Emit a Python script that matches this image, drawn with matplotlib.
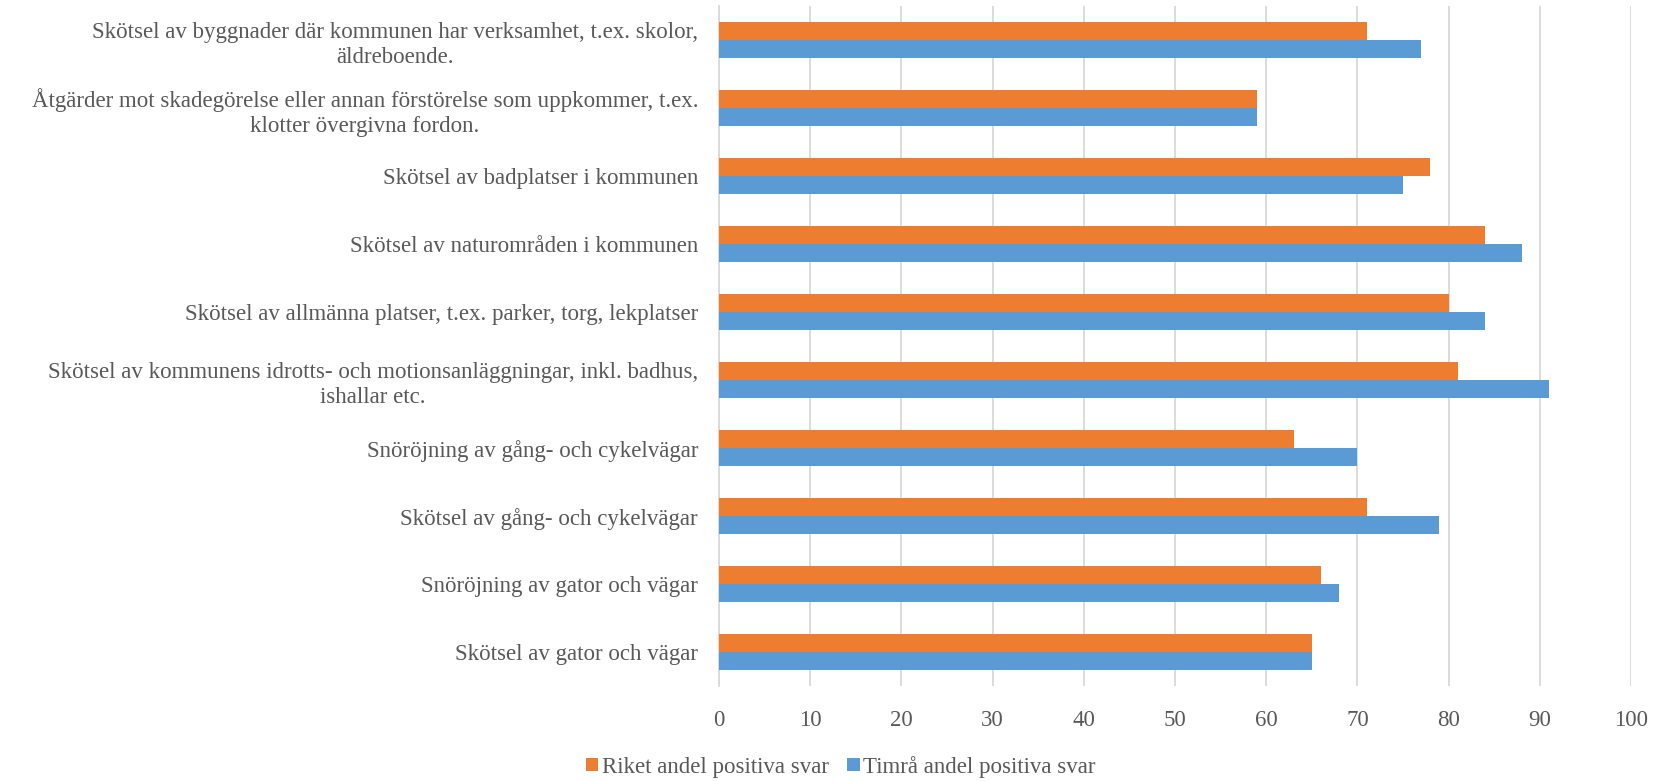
import matplotlib.pyplot as plt
import numpy as np

# categories, top to bottom as in the chart
categories = [
    "Skötsel av byggnader där kommunen har verksamhet, t.ex. skolor,\näldreboende.",
    "Åtgärder mot skadegörelse eller annan förstörelse som uppkommer, t.ex.\nklotter övergivna fordon.",
    "Skötsel av badplatser i kommunen",
    "Skötsel av naturområden i kommunen",
    "Skötsel av allmänna platser, t.ex. parker, torg, lekplatser",
    "Skötsel av kommunens idrotts- och motionsanläggningar, inkl. badhus,\nishallar etc.",
    "Snöröjning av gång- och cykelvägar",
    "Skötsel av gång- och cykelvägar",
    "Snöröjning av gator och vägar",
    "Skötsel av gator och vägar",
]
riket = [71, 59, 78, 84, 80, 81, 63, 71, 66, 65]
timra = [77, 59, 75, 88, 84, 91, 70, 79, 68, 65]
xticks = [0, 10, 20, 30, 40, 50, 60, 70, 80, 90, 100]

plt.rcParams['font.family'] = ['Liberation Serif', 'DejaVu Serif']
text_color = '#595959'
fs = 16.5

fig = plt.figure(figsize=(16.55, 7.81), dpi=100)
ax = fig.add_axes([0.4344, 0.1216, 0.5511, 0.8704])

y = np.arange(len(categories))
h = 0.265
ax.barh(y - h / 2, riket, height=h, color='#ED7D31', label='Riket andel positiva svar', zorder=3)
ax.barh(y + h / 2, timra, height=h, color='#5B9BD5', label='Timrå andel positiva svar', zorder=3)

ax.set_ylim(len(categories) - 0.5, -0.5)
ax.set_xlim(0, 100)
ax.set_xticks(xticks)
ax.set_yticks(y)
ax.set_yticklabels(categories, multialignment='center', linespacing=1.25)

ax.grid(axis='x', color='#d9d9d9', linewidth=1.3, zorder=0)
for s in ['top', 'right', 'bottom']:
    ax.spines[s].set_visible(False)
ax.spines['left'].set_color('#d9d9d9')
ax.spines['left'].set_linewidth(1.3)
ax.tick_params(axis='both', length=0, labelsize=fs, colors=text_color)
ax.tick_params(axis='x', pad=17)
ax.tick_params(axis='y', pad=15)

fig.legend(loc='lower center', bbox_to_anchor=(0.508, -0.022), ncol=2, frameon=False,
           fontsize=fs, labelcolor=text_color, handlelength=0.55, handleheight=0.55,
           handletextpad=0.15, columnspacing=0.8)

fig.savefig('out.png', dpi=100)
